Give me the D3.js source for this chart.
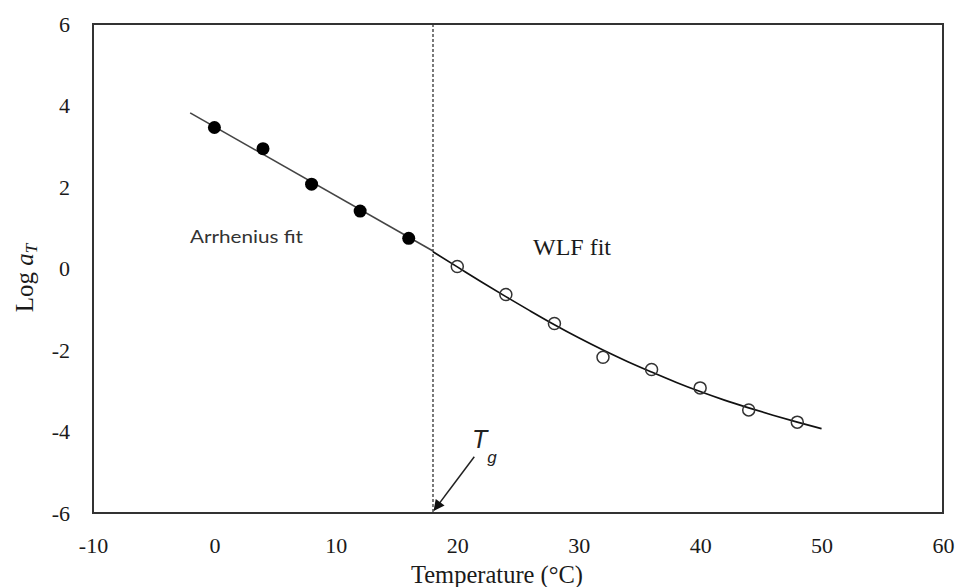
<!DOCTYPE html>
<html>
<head>
<meta charset="utf-8">
<script src="https://cdn.jsdelivr.net/npm/d3@7"></script>
<style>
  html, body { margin: 0; padding: 0; background: #fff; }
  svg { display: block; }
</style>
</head>
<body>
<svg id="chart" width="959" height="587"></svg>
<script>
// Shift factors below Tg (filled) and above Tg (open)
const arrheniusT = [0, 4, 8, 12, 16];
const arrheniusLogA = [3.46, 2.94, 2.07, 1.41, 0.74];
const wlfT = [20, 24, 28, 32, 36, 40, 44, 48];
const wlfLogA = [0.05, -0.64, -1.35, -2.18, -2.48, -2.93, -3.47, -3.77];

// Fitted curves
const arrheniusFitT = [-2, 18];
const arrheniusFitLogA = [3.82, 0.43];
const wlfFitT = [18, 20, 22, 24, 26, 28, 30, 32, 34, 36, 38, 40, 42, 44, 46, 48, 50];
const wlfFitLogA = [0.41, 0.04, -0.33, -0.69, -1.04, -1.38, -1.70, -2.00, -2.28, -2.54, -2.79, -3.02, -3.23, -3.42, -3.60, -3.77, -3.93];

// Glass transition temperature
const tg = 18;

const xTicks = [-10, 0, 10, 20, 30, 40, 50, 60];
const yTicks = [-6, -4, -2, 0, 2, 4, 6];

const svg = d3.select("#chart");
const plotLeft = 93, plotRight = 943, plotTop = 24, plotBottom = 513;

const x = d3.scaleLinear().domain([-10, 60]).range([plotLeft, plotRight]);
const y = d3.scaleLinear().domain([-6, 6]).range([plotBottom, plotTop]);

const serif = "'Liberation Serif', 'Times New Roman', serif";
const plainNumber = d => String(d);

// x tick labels
const xAxis = svg.append("g")
  .attr("transform", `translate(0,${plotBottom})`)
  .call(d3.axisBottom(x).tickValues(xTicks).tickSize(0).tickPadding(24).tickFormat(plainNumber));
xAxis.select(".domain").remove();
xAxis.selectAll("text")
  .attr("font-family", serif).attr("font-size", 22).attr("fill", "#1a1a1a");

// y tick labels
const yAxis = svg.append("g")
  .attr("transform", `translate(${plotLeft},0)`)
  .call(d3.axisLeft(y).tickValues(yTicks).tickSize(0).tickPadding(23).tickFormat(plainNumber));
yAxis.select(".domain").remove();
yAxis.selectAll("text")
  .attr("font-family", serif).attr("font-size", 22).attr("fill", "#1a1a1a");

// plot frame
svg.append("rect")
  .attr("x", plotLeft).attr("y", plotTop)
  .attr("width", plotRight - plotLeft).attr("height", plotBottom - plotTop)
  .attr("fill", "none").attr("stroke", "#333").attr("stroke-width", 2);

// Tg marker line
svg.append("line")
  .attr("x1", x(tg)).attr("x2", x(tg))
  .attr("y1", y(6)).attr("y2", y(-6))
  .attr("stroke", "#333").attr("stroke-width", 1.3)
  .attr("stroke-dasharray", "3,2");

const line = d3.line().x(d => x(d[0])).y(d => y(d[1]));

// Arrhenius fit
svg.append("path")
  .datum(arrheniusFitT.map((t, i) => [t, arrheniusFitLogA[i]]))
  .attr("d", line)
  .attr("fill", "none").attr("stroke", "#444").attr("stroke-width", 1.6);

// WLF fit
svg.append("path")
  .datum(wlfFitT.map((t, i) => [t, wlfFitLogA[i]]))
  .attr("d", line.curve(d3.curveMonotoneX))
  .attr("fill", "none").attr("stroke", "#111").attr("stroke-width", 1.7);

// data points
svg.append("g").selectAll("circle")
  .data(arrheniusT.map((t, i) => [t, arrheniusLogA[i]]))
  .join("circle")
  .attr("cx", d => x(d[0])).attr("cy", d => y(d[1]))
  .attr("r", 6.5).attr("fill", "#000");

svg.append("g").selectAll("circle")
  .data(wlfT.map((t, i) => [t, wlfLogA[i]]))
  .join("circle")
  .attr("cx", d => x(d[0])).attr("cy", d => y(d[1]))
  .attr("r", 6).attr("fill", "none").attr("stroke", "#333").attr("stroke-width", 1.5);

// region labels
svg.append("text")
  .attr("x", 190).attr("y", 243)
  .attr("font-family", "Lato, 'Open Sans', sans-serif").attr("font-size", 18)
  .attr("fill", "#333").attr("textLength", 113).attr("lengthAdjust", "spacingAndGlyphs")
  .text("Arrhenius fit");

svg.append("text")
  .attr("x", 533).attr("y", 255)
  .attr("font-family", serif).attr("font-size", 24)
  .attr("fill", "#1a1a1a")
  .text("WLF fit");

// Tg annotation with arrow
svg.append("defs").append("marker")
  .attr("id", "arrowhead")
  .attr("viewBox", "0 0 10 10").attr("refX", 9).attr("refY", 5)
  .attr("markerWidth", 13).attr("markerHeight", 11)
  .attr("markerUnits", "userSpaceOnUse")
  .attr("orient", "auto")
  .append("path").attr("d", "M0,0 L10,5 L0,10 z").attr("fill", "#111");

svg.append("line")
  .attr("x1", x(21.4)).attr("y1", y(-4.62))
  .attr("x2", x(18.1)).attr("y2", y(-5.93))
  .attr("stroke", "#222").attr("stroke-width", 1.5)
  .attr("marker-end", "url(#arrowhead)");

const tgLabel = svg.append("text")
  .attr("x", 472).attr("y", 448)
  .attr("font-family", "'Liberation Sans', Arial, sans-serif")
  .attr("font-style", "italic").attr("font-size", 25).attr("fill", "#222");
tgLabel.append("tspan").text("T");
tgLabel.append("tspan").attr("font-size", 17).attr("dy", 15).attr("dx", 0).text("g");

// axis titles
svg.append("text")
  .attr("x", 497).attr("y", 583)
  .attr("text-anchor", "middle")
  .attr("font-family", serif).attr("font-size", 24.5).attr("fill", "#1a1a1a")
  .text("Temperature (°C)");

const yTitle = svg.append("text")
  .attr("transform", `translate(33,278) rotate(-90)`)
  .attr("text-anchor", "middle")
  .attr("font-family", serif).attr("font-size", 25).attr("fill", "#1a1a1a");
yTitle.append("tspan").text("Log ");
yTitle.append("tspan").attr("font-style", "italic").text("a");
yTitle.append("tspan").attr("font-style", "italic").attr("font-size", 17).attr("dy", 4).text("T");
</script>
</body>
</html>
